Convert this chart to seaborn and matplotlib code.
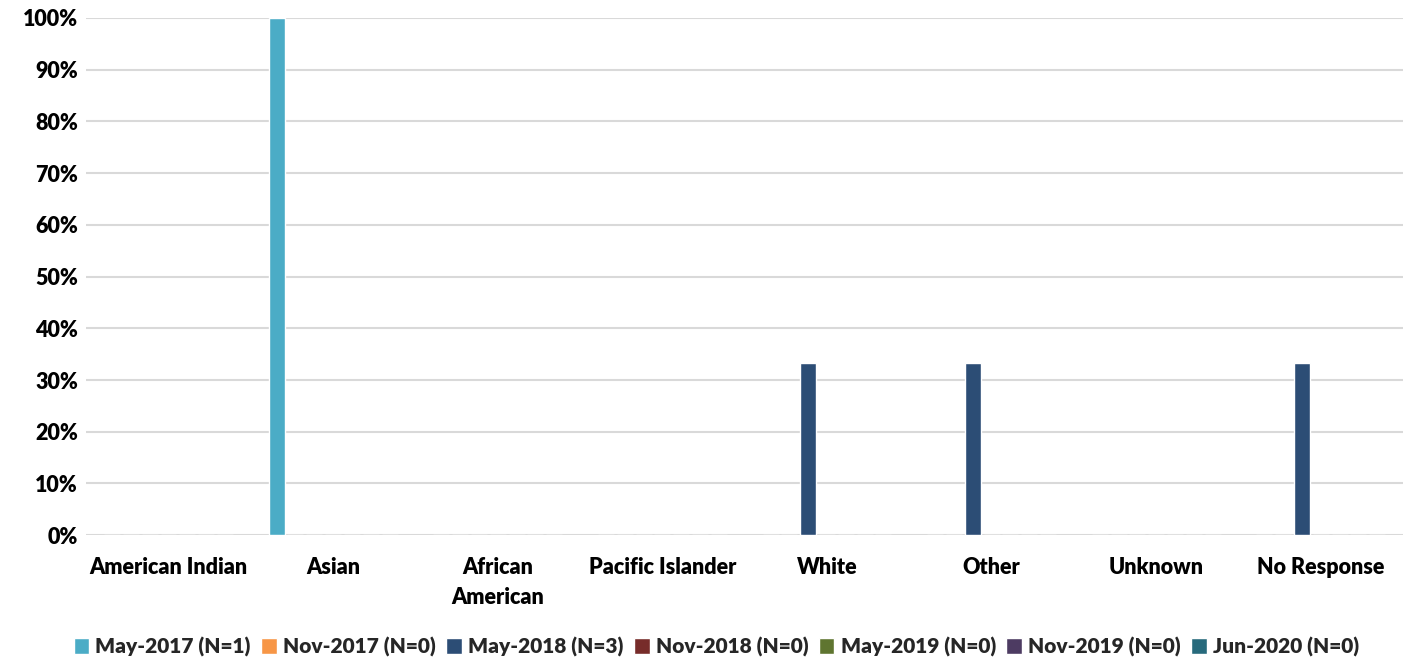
import matplotlib
matplotlib.use("Agg")
import matplotlib.pyplot as plt
import seaborn as sns
import pandas as pd
from matplotlib.ticker import PercentFormatter, MultipleLocator

categories = ["American Indian", "Asian", "African\nAmerican", "Pacific Islander",
              "White", "Other", "Unknown", "No Response"]
series = ["May-2017 (N=1)", "Nov-2017 (N=0)", "May-2018 (N=3)", "Nov-2018 (N=0)",
          "May-2019 (N=0)", "Nov-2019 (N=0)", "Jun-2020 (N=0)"]
may2017 = [0, 1.0, 0, 0, 0, 0, 0, 0]
nov2017 = [0, 0, 0, 0, 0, 0, 0, 0]
may2018 = [0, 0, 0, 0, 0.3333, 0.3333, 0, 0.3333]
nov2018 = [0, 0, 0, 0, 0, 0, 0, 0]
may2019 = [0, 0, 0, 0, 0, 0, 0, 0]
nov2019 = [0, 0, 0, 0, 0, 0, 0, 0]
jun2020 = [0, 0, 0, 0, 0, 0, 0, 0]
colors = ["#4BACC6", "#F79646", "#2C4D75", "#772C2A", "#5F7530", "#4D3B62", "#276A7C"]

values = [may2017, nov2017, may2018, nov2018, may2019, nov2019, jun2020]
rows = []
for s, vals in zip(series, values):
    for c, v in zip(categories, vals):
        rows.append({"Category": c, "Series": s, "Value": v})
df = pd.DataFrame(rows)

sns.set_theme(style="white")
plt.rcParams["font.family"] = ["Lato", "DejaVu Sans"]
plt.rcParams["font.weight"] = "bold"

fig = plt.figure(figsize=(14.13, 6.64), dpi=100)
ax = fig.add_axes([0.061, 0.194, 0.932, 0.779])

sns.barplot(data=df, x="Category", y="Value", hue="Series", order=categories,
            hue_order=series, palette=colors, width=0.8, gap=0.15,
            errorbar=None, ax=ax, saturation=1, legend=True)

ax.set_ylim(0, 1.0)
ax.set_xlim(-0.5, len(categories) - 0.5)
ax.yaxis.set_major_locator(MultipleLocator(0.1))
ax.yaxis.set_major_formatter(PercentFormatter(1.0, decimals=0))
ax.grid(axis="y", color="#D9D9D9", linewidth=1.5)
ax.set_axisbelow(True)
for sp in ax.spines.values():
    sp.set_visible(False)
ax.set_xlabel("")
ax.set_ylabel("")
ax.tick_params(axis="both", length=0, labelsize=15.5, colors="#000000")
ax.tick_params(axis="x", pad=16)
ax.tick_params(axis="y", pad=6)
for lab in ax.get_xticklabels() + ax.get_yticklabels():
    lab.set_fontweight("heavy")
for lab in ax.get_xticklabels():
    lab.set_linespacing(1.5)

handles, labels = ax.get_legend_handles_labels()
ax.legend_.remove()
fig.legend(handles, labels, loc="center", bbox_to_anchor=(0.507, 0.026), ncol=7,
           frameon=False, handlelength=0.75, handleheight=0.75,
           handletextpad=0.3, columnspacing=0.5, prop={"weight": "heavy", "size": 15})

fig.savefig("out.png", dpi=100)
